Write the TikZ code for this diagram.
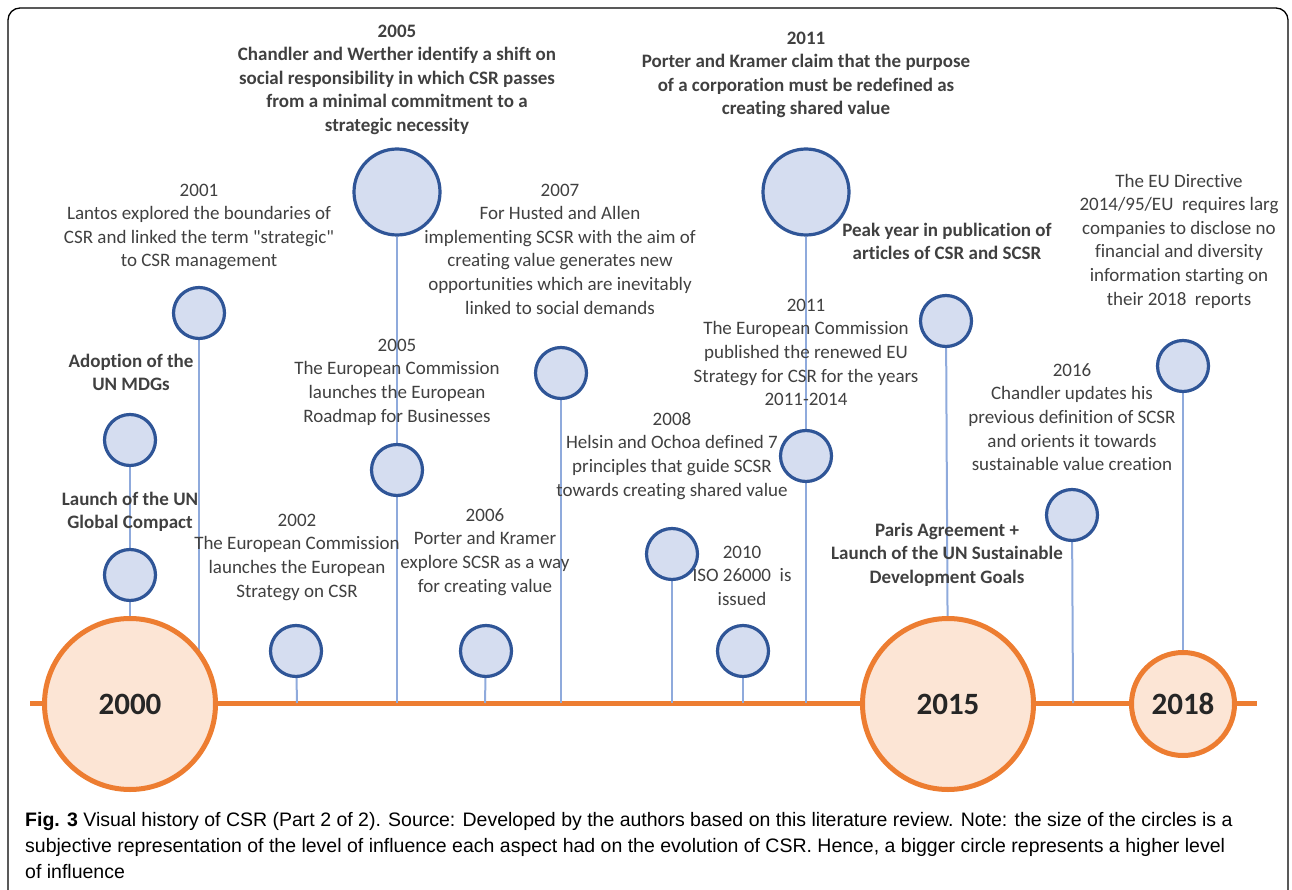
\documentclass[tikz,border=0pt]{standalone}
\usepackage{fontspec}
\setmainfont{Carlito}[Ligatures=CommonOff]
\newfontfamily\capfont{Liberation Sans}
\font\rawcarlito="Carlito" at 19pt
\usetikzlibrary{backgrounds}
\definecolor{tgray}{HTML}{404040}
\definecolor{orng}{HTML}{ED7D31}
\definecolor{peach}{HTML}{FCE5D5}
\definecolor{cfill}{HTML}{D5DDF0}
\definecolor{cdraw}{HTML}{2F5597}
\definecolor{vline}{HTML}{8FAADC}
\definecolor{ydark}{HTML}{262626}
\tikzset{
  smallc/.style={circle, draw=cdraw, fill=cfill, line width=3.2pt, minimum size=51pt, inner sep=0pt},
  midc/.style={smallc, minimum size=86pt},
  yearc/.style={circle, draw=orng, fill=peach, line width=5pt, inner sep=0pt, text=ydark, font=\fontsize{31}{31}\selectfont\bfseries},
  stem/.style={draw=vline, line width=2pt},
  txt/.style={align=center, inner sep=0pt, anchor=north, text=tgray, font=\fontsize{19}{23.6}\selectfont},
  btxt/.style={txt, font=\fontsize{19}{23.6}\selectfont\bfseries},
  frame/.style={draw=black, line width=1.3pt, rounded corners=12pt}
}
\newcommand{\fl}{\rule{0pt}{16pt}}
\newcommand{\sq}{{\rawcarlito\char34}}
\begin{document}
\begin{tikzpicture}[x=1pt,y=-1pt]
\useasboundingbox (0,0) rectangle (1292,890);
\clip (0,0) rectangle (1292,890);
\draw[frame] (8,8) rectangle (1288,920);

% timeline ends and stem feet
\coordinate (tl0) at (30,703);
\coordinate (tl1) at (1257,703);
\coordinate (f2001) at (199,703);
\coordinate (f2002) at (297,703);
\coordinate (f2005) at (397,703);
\coordinate (f2006) at (485,703);
\coordinate (f2007) at (561,703);
\coordinate (f2008) at (672,703);
\coordinate (f2010) at (743,703);
\coordinate (f2011) at (806,703);
\coordinate (f2016) at (1073,703);

% year circles
\node[yearc, minimum size=171pt] (y2000) at (130,704) {2000};
\node[yearc, minimum size=171pt] (y2015) at (948,704) {2015};
\node[yearc, minimum size=103pt] (y2018) at (1183,704) {2018};

% event circles
\node[smallc] (gc) at (130,575) {};
\node[smallc] (mdg) at (130,440) {};
\node[smallc] (c2001) at (199,313) {};
\node[smallc] (c2002) at (296,651) {};
\node[midc] (c2005a) at (397,192) {};
\node[smallc] (c2005b) at (397,470) {};
\node[smallc] (c2006) at (486,651) {};
\node[smallc] (c2007) at (561,373) {};
\node[smallc] (c2008) at (672,554) {};
\node[smallc] (c2010) at (743,651) {};
\node[midc] (c2011a) at (806,192) {};
\node[smallc] (c2011b) at (806,456) {};
\node[smallc] (peak) at (946,321) {};
\node[smallc] (c2016) at (1072,515) {};
\node[smallc] (eud) at (1183,366) {};

\begin{scope}[on background layer]
\draw[draw=orng, line width=5pt] (tl0) -- (tl1);
\draw[stem] (mdg) -- (gc);
\draw[stem] (gc) -- (y2000);
\draw[stem] (c2001) -- (f2001);
\draw[stem] (c2002) -- (f2002);
\draw[stem] (c2005a) -- (c2005b) -- (f2005);
\draw[stem] (c2006) -- (f2006);
\draw[stem] (c2007) -- (f2007);
\draw[stem] (c2008) -- (f2008);
\draw[stem] (c2010) -- (f2010);
\draw[stem] (c2011a) -- (c2011b) -- (f2011);
\draw[stem] (peak) -- (y2015);
\draw[stem] (c2016) -- (f2016);
\draw[stem] (eud) -- (y2018);
\end{scope}

% texts
\node[btxt] (t2005a) at (397,21) {\fl 2005\\Chandler and Werther identify a shift on\\social responsibility in which CSR passes\\from a minimal commitment to a\\strategic necessity};
\node[btxt] (t2011a) at (806,28) {\fl 2011\\Porter and Kramer claim that the purpose\\of a corporation must be redefined as\\creating shared value};
\node[txt] (t2001) at (199,180) {\fl 2001\\Lantos explored the boundaries of\\CSR and linked the term \sq strategic\sq\\to CSR management};
\node[txt] (t2007) at (560,180) {\fl 2007\\For Husted and Allen\\implementing SCSR with the aim of\\creating value generates new\\opportunities which are inevitably\\linked to social demands};
\node[btxt] (tpeak) at (947,220) {\fl Peak year in publication of\\articles of CSR and SCSR};
\node[txt] (teud) at (1179,171) {\fl The EU Directive\\2014/95/EU\ \ requires larg\\companies to disclose no\\financial and diversity\\information starting on\\their 2018\ \ reports};
\node[btxt] (tmdg) at (131,351) {\fl Adoption of the\\UN MDGs};
\node[txt] (t2005b) at (397,335) {\fl 2005\\The European Commission\\launches the European\\Roadmap for Businesses};
\node[btxt] (tgc) at (130,489) {\fl Launch of the UN\\Global Compact};
\node[txt] (t2002) at (297,510) {\fl 2002\\The European Commission\\launches the European\\Strategy on CSR};
\node[txt] (t2006) at (485,505) {\fl 2006\\Porter and Kramer\\explore SCSR as a way\\for creating value};
\node[txt] (t2008) at (672,409) {\fl 2008\\Helsin and Ochoa defined 7\\principles that guide SCSR\\towards creating shared value};
\node[txt] (t2011b) at (806,295) {\fl 2011\\The European Commission\\published the renewed EU\\Strategy for CSR for the years\\2011-2014};
\node[txt] (t2016) at (1072,360) {\fl 2016\\Chandler updates his\\previous definition of SCSR\\and orients it towards\\sustainable value creation};
\node[txt] (t2010) at (742,542) {\fl 2010\\ISO 26000\ \ is\\issued};
\node[btxt] (tparis) at (947,520) {\fl Paris Agreement +\\Launch of the UN Sustainable\\Development Goals};

% caption
\node[align=left, inner sep=0pt, anchor=north west, text=black, font=\capfont\fontsize{19.5}{26}\selectfont] (cap) at (25,809)
{\rule{0pt}{17pt}\textbf{Fig. 3} Visual history of CSR (Part 2 of 2). Source: Developed by the authors based on this literature review. Note: the size of the circles is a\\subjective representation of the level of influence each aspect had on the evolution of CSR. Hence, a bigger circle represents a higher level\\of influence};
\end{tikzpicture}
\end{document}
